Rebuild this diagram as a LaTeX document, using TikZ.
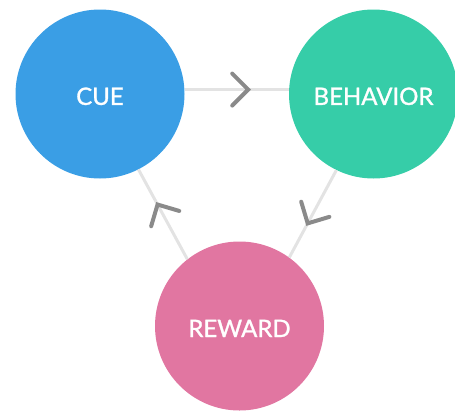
\documentclass[tikz,border=0pt]{standalone}
\usepackage{fontspec}
\setmainfont{Lato}
\newfontfamily\habitfont[FakeBold=1.2]{Lato}
\usetikzlibrary{decorations.markings}
\definecolor{cueblue}{HTML}{3A9EE5}
\definecolor{behaviorgreen}{HTML}{36CDA8}
\definecolor{rewardpink}{HTML}{E176A1}
\definecolor{linkgray}{HTML}{E3E3E3}
\definecolor{chevgray}{HTML}{8A8A8A}
\begin{document}
\begin{tikzpicture}[x=1pt,y=-1pt]
    \tikzstyle{habit} = [circle, minimum size=169pt, inner sep=0pt, text=white, text height=22pt, font=\habitfont\fontsize{24}{24}\selectfont]
    \tikzstyle{chevron} = [line width=4pt, draw=chevgray, line cap=round]
    \tikzstyle{link} = [line width=3pt, draw=linkgray, postaction={decorate},
        decoration={markings, mark=at position 0.61 with {\draw[chevron] (-16pt,-16pt) -- (0pt,0pt) -- (-16pt,16pt);}}]
    \useasboundingbox (0,0) rectangle (455,410);

    \node [habit, fill=cueblue] (cue) at (100,94) {CUE};
    \node [habit, fill=behaviorgreen] (behavior) at (373.5,94) {BEHAVIOR};
    \node [habit, fill=rewardpink] (reward) at (239.5,326) {REWARD};

    % the loop: cue -> behavior -> reward -> cue
    \draw[link] (cue.3) -- (behavior.177);
    \draw[link] (behavior.244) -- (reward.54);
    \draw[link] (reward.128) -- (cue.297);
\end{tikzpicture}
\end{document}
